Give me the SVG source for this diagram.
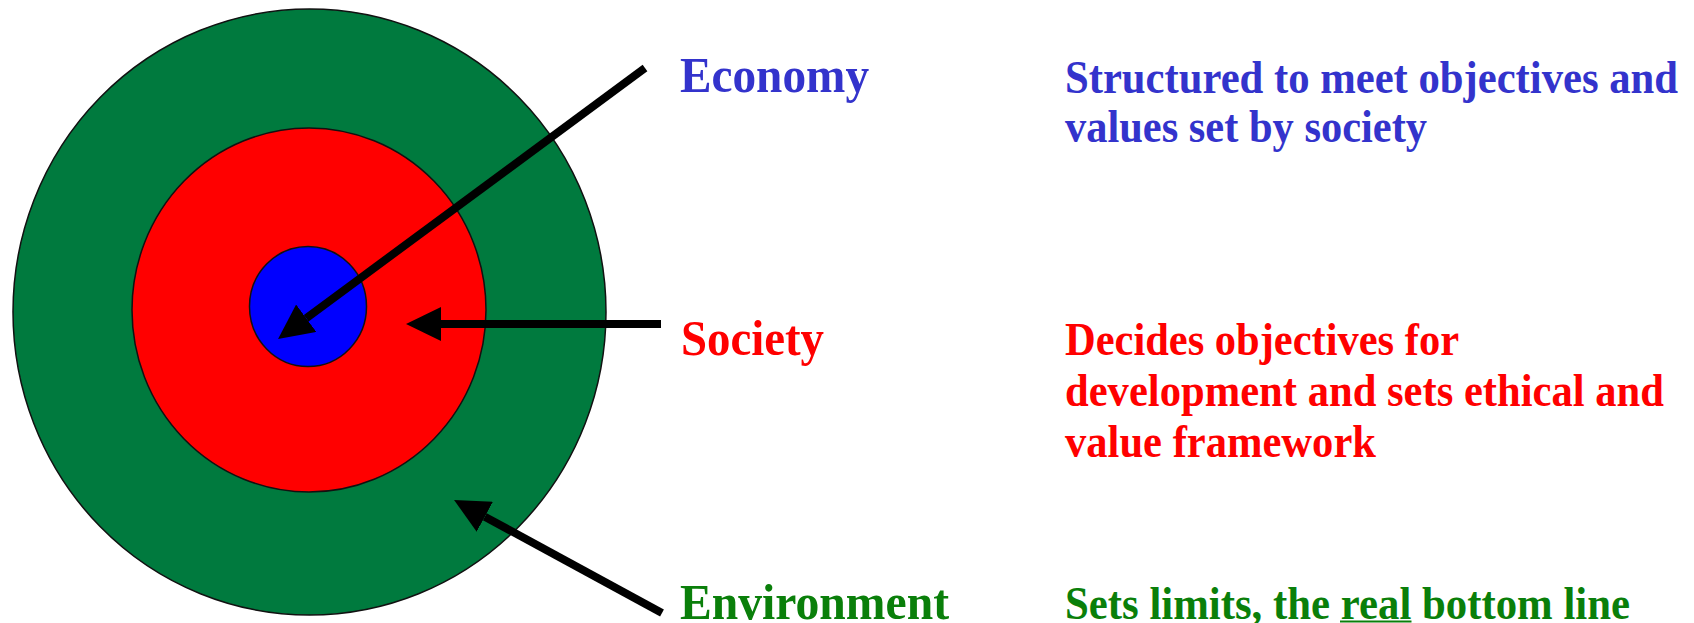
<svg xmlns="http://www.w3.org/2000/svg" width="1694" height="623" viewBox="0 0 1694 623">
<style>
.ring{stroke:#111;stroke-width:1.5}
.conn{stroke:#000;stroke-width:8;fill:none;marker-end:url(#ah)}
.lab{font-family:"Liberation Serif","Times New Roman",serif;font-weight:bold;font-size:51px}
.desc{font-family:"Liberation Serif","Times New Roman",serif;font-weight:bold;font-size:47px}
.blue{fill:#3333CC}
.red{fill:#FF0000}
.green{fill:#0A7F0A}
</style>
<defs>
<marker id="ah" markerUnits="userSpaceOnUse" markerWidth="35" markerHeight="34" viewBox="0 0 35 34" refX="0" refY="17" orient="auto">
<path d="M0,0 L35,17 L0,34 Z" fill="#000"/>
</marker>
</defs>
<rect width="1694" height="623" fill="#fff"/>
<g id="environment">
<ellipse class="ring" cx="309.5" cy="312" rx="296.5" ry="303" fill="#007A3E"/>
</g>
<g id="society">
<ellipse class="ring" cx="309" cy="310" rx="177" ry="182" fill="#FF0000"/>
</g>
<g id="economy">
<ellipse class="ring" cx="308" cy="306.5" rx="58.5" ry="60" fill="#0000FF"/>
</g>
<g id="connectors">
<line class="conn" x1="645" y1="68" x2="306.2" y2="318.2"/>
<line class="conn" x1="661" y1="324" x2="441" y2="324"/>
<line class="conn" x1="662" y1="613" x2="484.8" y2="516.7"/>
</g>
<g id="label-economy">
<text class="lab blue" x="680" y="92" textLength="189" lengthAdjust="spacingAndGlyphs">Economy</text>
<text class="desc blue" x="1065" y="93" textLength="613" lengthAdjust="spacingAndGlyphs">Structured to meet objectives and</text>
<text class="desc blue" x="1065" y="142" textLength="362" lengthAdjust="spacingAndGlyphs">values set by society</text>
</g>
<g id="label-society">
<text class="lab red" x="681" y="355" textLength="143" lengthAdjust="spacingAndGlyphs">Society</text>
<text class="desc red" x="1065" y="355" textLength="394" lengthAdjust="spacingAndGlyphs">Decides objectives for</text>
<text class="desc red" x="1065" y="406" textLength="599" lengthAdjust="spacingAndGlyphs">development and sets ethical and</text>
<text class="desc red" x="1065" y="457" textLength="311" lengthAdjust="spacingAndGlyphs">value framework</text>
</g>
<g id="label-environment">
<text class="lab green" x="680" y="619" textLength="269" lengthAdjust="spacingAndGlyphs">Environment</text>
<text class="desc green" x="1065" y="619" textLength="565" lengthAdjust="spacingAndGlyphs">Sets limits, the real bottom line</text>
<line x1="1340" y1="621.5" x2="1411.5" y2="621.5" stroke="#0A7F0A" stroke-width="2"/>
</g>
</svg>
